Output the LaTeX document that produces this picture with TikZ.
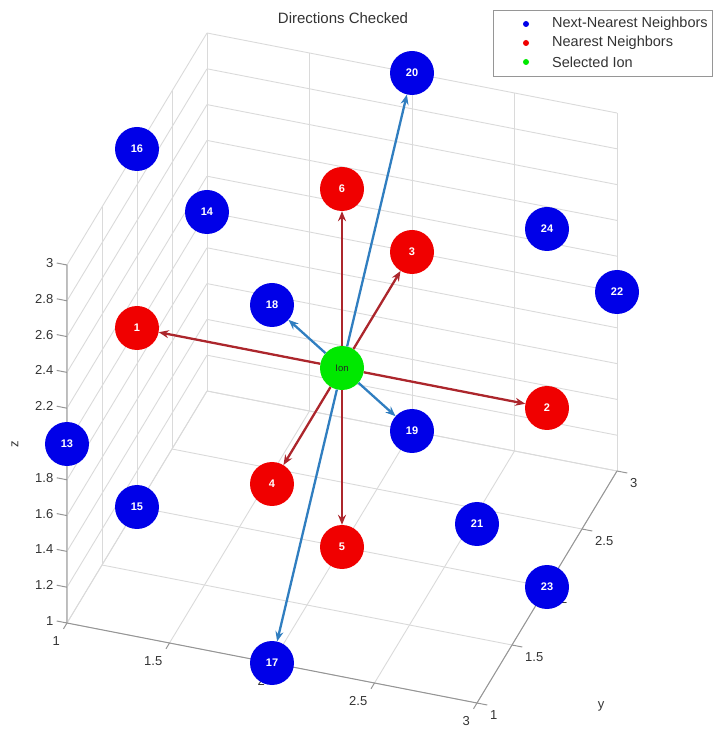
\documentclass[tikz,border=0pt]{standalone}
\usepackage{fontspec}
\setmainfont{Liberation Sans}
\usetikzlibrary{arrows.meta}
\definecolor{nnnblue}{RGB}{0,0,232}
\definecolor{nnred}{RGB}{240,0,0}
\definecolor{iongreen}{RGB}{0,232,0}
\definecolor{nnarrowcol}{RGB}{172,38,44}
\definecolor{nnnarrowcol}{RGB}{48,126,192}
\definecolor{gridgray}{RGB}{218,218,218}
\definecolor{axisgray}{RGB}{150,150,150}
\tikzset{
  box3d/.style={x={(205pt,-40pt)},y={(70pt,116pt)},z={(0pt,179pt)},shift={(-275pt,-255pt)}},
  gridline/.style={gridgray,line width=0.9pt},
  axisline/.style={axisgray,line width=1pt},
  ticklabel/.style={text=black!80,font=\fontsize{13}{15}\selectfont,inner sep=0pt},
  nnnode/.style={circle,fill=nnred,minimum size=44pt,inner sep=0pt,text=white,font=\fontsize{11}{13}\selectfont\bfseries},
  nnnnode/.style={nnnode,fill=nnnblue},
  ionnode/.style={nnnode,fill=iongreen,text=black!85,font=\fontsize{9.5}{11}\selectfont},
  nnarrow/.style={draw=nnarrowcol,line width=2.3pt,-{Stealth[length=10pt,width=8pt]}},
  nnnarrow/.style={draw=nnnarrowcol,line width=2.3pt,-{Stealth[length=10pt,width=8pt]}},
  legdot/.style={circle,minimum size=6pt,inner sep=0pt},
  legtext/.style={anchor=west,text=black!80,font=\fontsize{14.5}{17}\selectfont,inner sep=0pt}
}
\begin{document}
\begin{tikzpicture}[x=1pt,y=1pt]
\useasboundingbox (-67,-106) rectangle (648,623);
\begin{scope}[box3d]
  % walls and floor
  \foreach \v in {1,1.5,2,2.5,3} {
    \draw[gridline] (\v,1,1) -- (\v,3,1);
    \draw[gridline] (1,\v,1) -- (3,\v,1);
    \draw[gridline] (\v,3,1) -- (\v,3,3);
    \draw[gridline] (1,\v,1) -- (1,\v,3);
  }
  \foreach \h in {1,1.2,1.4,1.6,1.8,2,2.2,2.4,2.6,2.8,3} {
    \draw[gridline] (1,3,\h) -- (3,3,\h);
    \draw[gridline] (1,1,\h) -- (1,3,\h);
  }
  % axes, ticks
  \draw[axisline] (1,1,3) -- (1,1,1) -- (3,1,1) -- (3,3,1);
  \foreach \h in {1,1.2,1.4,1.6,1.8,2,2.2,2.4,2.6,2.8,3}
    \draw[axisline] (1,1,\h) -- (0.95,1,\h) node[ticklabel,anchor=east,xshift=-3pt] {\h};
  \foreach \v in {1,1.5,2,2.5,3} {
    \draw[axisline] (\v,1,1) -- (\v,0.95,1);
    \node[ticklabel,anchor=north east,xshift=-7pt,yshift=-13pt] at (\v,1,1) {\v};
    \draw[axisline] (3,\v,1) -- (3.05,\v,1);
    \node[ticklabel,anchor=west,xshift=13pt,yshift=-12pt] at (3,\v,1) {\v};
  }
  \node[ticklabel,xshift=-52pt,rotate=90] (zlab) at (1,1,2) {z};
  \node[ticklabel,xshift=54pt,yshift=-119pt] (ylab) at (3,2,1) {y};

  % lattice
  \node[nnnode] (n1) at (1,2,2) {1};
  \node[nnnode] (n2) at (3,2,2) {2};
  \node[nnnode] (n3) at (2,3,2) {3};
  \node[nnnode] (n4) at (2,1,2) {4};
  \node[nnnode] (n5) at (2,2,1) {5};
  \node[nnnode] (n6) at (2,2,3) {6};
  \node[nnnnode] (n13) at (1,1,2) {13};
  \node[nnnnode] (n14) at (1,3,2) {14};
  \node[nnnnode] (n15) at (1,2,1) {15};
  \node[nnnnode] (n16) at (1,2,3) {16};
  \node[nnnnode] (n17) at (2,1,1) {17};
  \node[nnnnode] (n18) at (2,1,3) {18};
  \node[nnnnode] (n19) at (2,3,1) {19};
  \node[nnnnode] (n20) at (2,3,3) {20};
  \node[nnnnode] (n21) at (3,1,2) {21};
  \node[nnnnode] (n22) at (3,3,2) {22};
  \node[nnnnode] (n23) at (3,2,1) {23};
  \node[nnnnode] (n24) at (3,2,3) {24};
  \node[ionnode] (ion) at (2,2,2) {Ion};

  \path[nnarrow] (ion) edge (n1) edge (n2) edge (n3) edge (n4) edge (n5) edge (n6);
  \path[nnnarrow] (ion) edge (n17) edge (n18) edge (n19) edge (n20);
\end{scope}

\node[font=\fontsize{15}{18}\selectfont,text=black!80] (title) at (276,605) {Directions Checked};

% legend
\draw[axisgray,line width=0.8pt,fill=white] (426,547) rectangle (645,613);
\node[legdot,fill=nnnblue] (kn) at (459,599) {};
\node[legdot,fill=nnred] (kr) at (459,580) {};
\node[legdot,fill=iongreen] (kg) at (459,561) {};
\node[legtext] (tn) at (485,599) {Next-Nearest Neighbors};
\node[legtext] (tr) at (485,580) {Nearest Neighbors};
\node[legtext] (tg) at (485,561) {Selected Ion};
\end{tikzpicture}
\end{document}
